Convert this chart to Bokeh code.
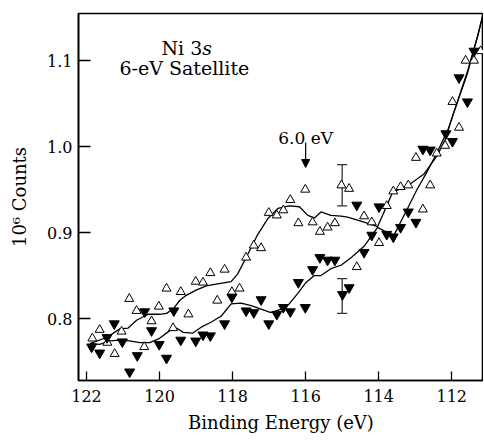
from bokeh.plotting import figure
from bokeh.models import (Range1d, FixedTicker, CustomJSTickFormatter, Label, Arrow,
                          NormalHead, Whisker, TeeHead, ColumnDataSource)
from bokeh.embed import file_html
from bokeh.resources import INLINE

# --- data ---
open_x = [121.84, 121.64, 121.43, 121.23, 121.04, 120.83, 120.63, 120.42, 120.22, 120.02,
          119.81, 119.63, 119.42, 119.21, 119.01, 118.81, 118.61, 118.42, 118.22, 118.02,
          117.81, 117.63, 117.42, 117.22, 117.01, 116.79, 116.61, 116.42, 116.20, 116.01,
          115.81, 115.61, 115.40, 115.20, 115.02, 114.81, 114.60, 114.40, 114.19, 113.99,
          113.78, 113.60, 113.40, 113.19, 112.98, 112.79, 112.59, 112.41, 112.18, 111.98,
          111.80, 111.62, 111.39, 111.21]
open_y = [0.777, 0.787, 0.772, 0.759, 0.785, 0.823, 0.809, 0.767, 0.797, 0.814,
          0.835, 0.789, 0.831, 0.805, 0.843, 0.842, 0.853, 0.821, 0.857, 0.831,
          0.835, 0.871, 0.885, 0.882, 0.923, 0.920, 0.926, 0.938, 0.911, 0.950,
          0.912, 0.901, 0.906, 0.911, 0.955, 0.951, 0.860, 0.919, 0.912, 0.888,
          0.931, 0.948, 0.953, 0.955, 0.987, 0.927, 0.955, 0.992, 1.001, 1.052,
          1.022, 1.100, 1.100, 1.111]

filled_x = [121.86, 121.64, 121.44, 121.24, 121.02, 120.82, 120.61, 120.41, 120.22, 120.01,
            119.81, 119.61, 119.42, 119.01, 118.81, 118.61, 118.22, 118.02, 117.63, 117.42,
            117.22, 117.01, 116.79, 116.61, 116.42, 116.20, 116.01, 115.81, 115.61, 115.40,
            115.20, 114.99, 114.81, 114.60, 114.40, 114.19, 113.99, 113.78, 113.60, 113.40,
            113.19, 112.98, 112.79, 112.59, 112.16, 111.98, 111.80, 111.57, 111.39]
filled_y = [0.767, 0.760, 0.778, 0.794, 0.773, 0.738, 0.757, 0.808, 0.786, 0.770,
            0.754, 0.809, 0.775, 0.774, 0.781, 0.780, 0.794, 0.825, 0.809, 0.807,
            0.822, 0.794, 0.805, 0.813, 0.808, 0.842, 0.813, 0.857, 0.871, 0.868,
            0.868, 0.828, 0.836, 0.932, 0.877, 0.897, 0.930, 0.898, 0.895, 0.906,
            0.924, 0.912, 0.997, 0.996, 1.015, 1.006, 1.080, 1.052, 1.111]

curve_open_x = [121.91, 121.45, 121.09, 120.86, 120.63, 120.31, 120.00, 119.81, 119.63, 119.45,
                119.27, 119.00, 118.72, 118.45, 118.04, 117.86, 117.58, 117.31, 117.04, 116.76,
                116.45, 116.17, 115.94, 115.76, 115.58, 115.31, 115.03, 114.85, 114.40, 114.03,
                113.80, 113.62, 113.39, 113.12, 112.76, 112.39, 112.18, 111.94, 111.57, 111.30,
                111.12]
curve_open_y = [0.771, 0.778, 0.788, 0.789, 0.798, 0.805, 0.805, 0.806, 0.811, 0.821,
                0.827, 0.833, 0.838, 0.840, 0.843, 0.852, 0.875, 0.898, 0.916, 0.928,
                0.931, 0.930, 0.920, 0.917, 0.924, 0.920, 0.919, 0.918, 0.912, 0.907,
                0.929, 0.947, 0.951, 0.957, 0.968, 0.990, 1.008, 1.040, 1.085, 1.127,
                1.158]

curve_filled_x = [121.91, 121.64, 121.36, 121.09, 120.82, 120.54, 120.27, 120.00, 119.72, 119.54,
                  119.35, 119.10, 118.86, 118.58, 118.31, 118.04, 117.77, 117.49, 117.22, 116.95,
                  116.67, 116.45, 116.22, 115.99, 115.76, 115.58, 115.31, 115.03, 114.75, 114.40,
                  114.03, 113.76, 113.58, 113.21, 112.94, 112.71, 112.39, 112.10, 111.90, 111.55,
                  111.28, 111.13]
curve_filled_y = [0.771, 0.770, 0.774, 0.775, 0.774, 0.772, 0.772, 0.777, 0.786, 0.789,
                  0.784, 0.783, 0.790, 0.796, 0.803, 0.817, 0.818, 0.815, 0.811, 0.807,
                  0.811, 0.817, 0.829, 0.842, 0.850, 0.850, 0.858, 0.862, 0.871, 0.884,
                  0.906, 0.900, 0.897, 0.928, 0.951, 0.968, 0.994, 1.020, 1.045, 1.090,
                  1.130, 1.155]

err_x = [115.0, 115.0]
err_low = [0.931, 0.806]
err_high = [0.979, 0.8465]

x_ticks = [122, 120, 118, 116, 114, 112]
y_ticks = [0.8, 0.9, 1.0, 1.1]

FONT = "DejaVu Serif"

p = figure(width=483, height=440, output_backend="svg", toolbar_location=None,
           x_range=Range1d(122.22, 111.13), y_range=Range1d(0.728, 1.1547),
           min_border_left=78, min_border_right=0, min_border_top=13, min_border_bottom=60)
p.background_fill_color = "white"
p.border_fill_color = "white"
p.grid.visible = False
p.outline_line_color = "black"
p.outline_line_width = 1.6

p.xaxis.ticker = FixedTicker(ticks=x_ticks)
p.yaxis.ticker = FixedTicker(ticks=y_ticks)
p.yaxis.formatter = CustomJSTickFormatter(code="return tick.toFixed(1);")
p.xaxis.formatter = CustomJSTickFormatter(code="return tick.toFixed(0);")
for ax in (p.xaxis, p.yaxis):
    ax.minor_tick_line_color = None
    ax.major_tick_out = 0
    ax.axis_line_width = 1.6
    ax.major_tick_line_width = 1.3
    ax.major_label_text_font = FONT
    ax.major_label_text_font_size = "16px"
    ax.major_label_text_color = "black"
    ax.axis_label_text_font = FONT
    ax.axis_label_text_font_size = "18px"
    ax.axis_label_text_font_style = "normal"
    ax.axis_label_text_color = "black"
p.xaxis.major_tick_in = 9
p.yaxis.major_tick_in = 12
p.xaxis.major_label_standoff = 9
p.yaxis.major_label_standoff = 6
p.xaxis.axis_label = "Binding Energy (eV)"
p.yaxis.axis_label = "10\u2076 Counts"
p.xaxis.axis_label_standoff = 7
p.yaxis.axis_label_standoff = 14

p.line(curve_open_x, curve_open_y, line_color="black", line_width=1.3)
p.line(curve_filled_x, curve_filled_y, line_color="black", line_width=1.3)

p.scatter(open_x, open_y, marker="triangle", size=9, fill_color="white",
          line_color="black", line_width=1)
p.scatter(filled_x, filled_y, marker="inverted_triangle", size=10, fill_color="black",
          line_color="black", line_width=1)

err_src = ColumnDataSource(data=dict(x=err_x, lower=err_low, upper=err_high))
p.add_layout(Whisker(source=err_src, base="x", lower="lower", upper="upper",
                     dimension="height", line_color="#333333", line_width=1.3,
                     upper_head=TeeHead(size=10, line_color="#333333", line_width=1.3),
                     lower_head=TeeHead(size=10, line_color="#333333", line_width=1.3)))

p.add_layout(Arrow(end=NormalHead(size=8, fill_color="black", line_color="black"),
                   x_start=116.0, y_start=1.0047, x_end=116.0, y_end=0.9756,
                   line_color="black", line_width=1.2))

p.add_layout(Label(x=118.83, y=1.1151, text="Ni 3", text_align="right",
                   text_baseline="alphabetic", text_font=FONT, text_font_size="19px",
                   text_color="black"))
p.add_layout(Label(x=118.83, y=1.1151, text="s", text_align="left",
                   text_baseline="alphabetic", text_font=FONT, text_font_size="19px",
                   text_font_style="italic", text_color="black"))
p.add_layout(Label(x=119.32, y=1.0919, text="6-eV Satellite", text_align="center",
                   text_baseline="alphabetic", text_font=FONT, text_font_size="19px",
                   text_color="black"))
p.add_layout(Label(x=116.0, y=1.0105, text="6.0 eV", text_align="center",
                   text_baseline="alphabetic", text_font=FONT, text_font_size="17px",
                   text_color="black"))

open("out.html", "w").write(file_html(p, INLINE))
